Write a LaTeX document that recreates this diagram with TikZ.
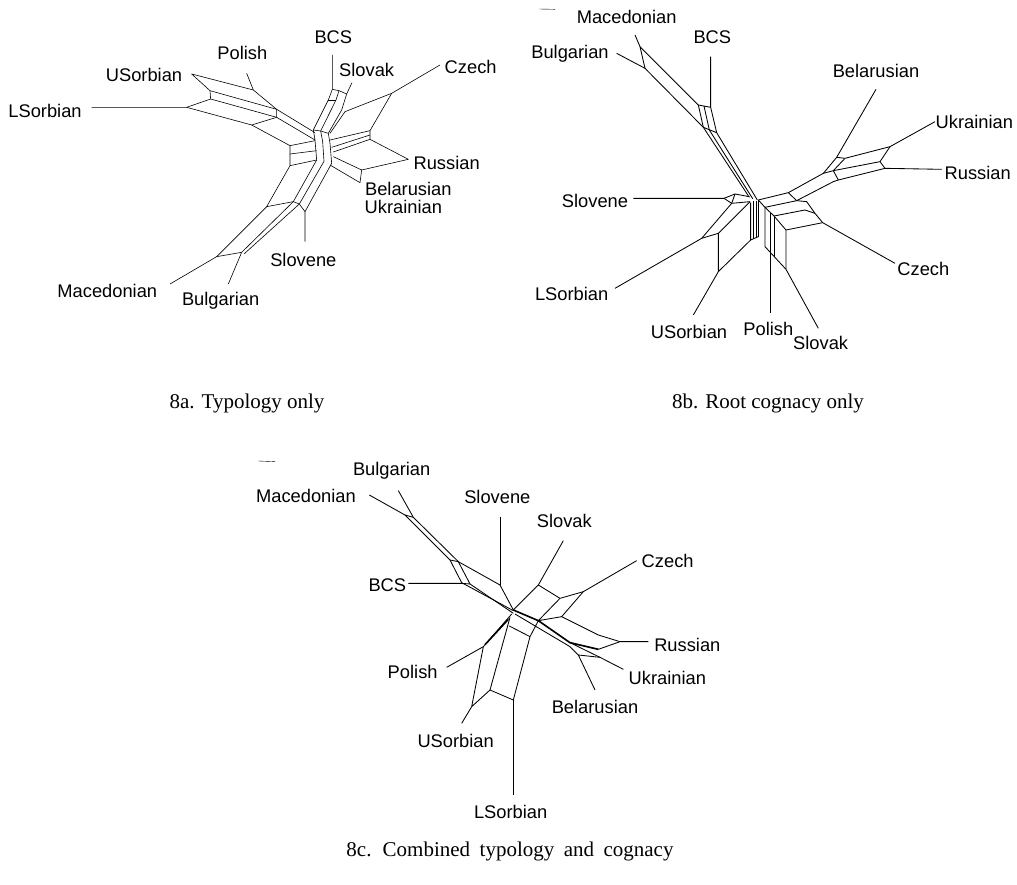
\documentclass[tikz,border=0pt]{standalone}
\usepackage{fontspec}
\setmainfont{Liberation Serif}
\newfontfamily\langfont{Liberation Sans}

\begin{document}
\begin{tikzpicture}
[x = 1pt, y = -1pt,
 net/.style = {line width=0.6pt, line join=round},
 darknet/.style = {line width=0.85pt, line join=round},
 core/.style = {line width=1.6pt, line join=round},
 lang/.style = {font=\langfont\fontsize{18.3}{18}\selectfont, inner sep=0pt},
 capt/.style = {font=\fontsize{21}{21}\selectfont, inner sep=0pt}
 ]
\useasboundingbox (0,0) rectangle (1017,885);

% 8a
\begin{scope}[shift={(0,0)}, scale=1/3]
\draw [net] (575,222) -- (760,270) -- (830,328);
\draw [net] (740,220) -- (760,270);
\draw [net] (575,222) -- (630,272) -- (830,328) -- (830,352);
\draw [net] (630,272) -- (632,297) -- (830,352);
\draw [net] (275,322) -- (560,322) -- (632,297);
\draw [net] (560,322) -- (755,375) -- (830,352);
\draw [net] (755,375) -- (870,437) -- (870,497);
\draw [net] (830,328) -- (945,398);
\draw [net] (830,352) -- (945,420);
\draw [net] (870,437) -- (945,422);
\draw [net] (870,462) -- (950,452);
\draw [net] (870,497) -- (950,480);
\draw [net] (997,165) -- (997,268) -- (1017,272) -- (1040,282);
\draw [net] (1056,248) -- (1040,282);
\draw [net] (997,268) -- (985,300) -- (940,390) -- (945,420) -- (950,480);
\draw [net] (1017,272) -- (1008,300) -- (962,393) -- (968,425) -- (972,484);
\draw [net] (1040,282) -- (1025,330) -- (985,400) -- (990,430) -- (995,490);
\draw [net] (985,300) -- (1008,300);
\draw [net] (940,390) -- (962,393) -- (985,400);
\draw [net] (1320,195) -- (1175,280) -- (1035,335) -- (990,400);
\draw [net] (1175,280) -- (1110,392) -- (1110,418);
\draw [net] (1110,392) -- (990,420);
\draw [net] (1110,405) -- (995,442);
\draw [net] (1110,418) -- (1000,456);
\draw [net] (1110,418) -- (1225,478) -- (1085,510) -- (1080,548) -- (990,495);
\draw [net] (1085,510) -- (1000,470);
\draw [net] (870,497) -- (800,620) -- (650,770) -- (510,852);
\draw [net] (800,620) -- (880,605);
\draw [net] (950,480) -- (880,605) -- (725,757) -- (685,852);
\draw [net] (972,484) -- (898,612) -- (732,762);
\draw [net] (650,770) -- (725,757);
\draw [net] (880,605) -- (898,612) -- (915,635) -- (915,725);
\draw [net] (915,635) -- (995,490);
\node [lang] (aBCS) at (1000,112) {BCS};
\node [lang] (aPolish) at (727,158) {Polish};
\node [lang] (aUSorbian) at (432,225) {USorbian};
\node [lang] (aSlovak) at (1100,210) {Slovak};
\node [lang] (aCzech) at (1412,200) {Czech};
\node [lang] (aLSorbian) at (135,332) {LSorbian};
\node [lang] (aRussian) at (1340,488) {Russian};
\node [lang] (aBelarusian) at (1225,567) {Belarusian};
\node [lang] (aUkrainian) at (1210,622) {Ukrainian};
\node [lang] (aSlovene) at (910,780) {Slovene};
\node [lang] (aMacedonian) at (322,872) {Macedonian};
\node [lang] (aBulgarian) at (662,902) {Bulgarian};
\end{scope}

% 8b
\begin{scope}[shift={(500,0)}, scale=1/3]
\draw [line width=0.4pt] (118,27) -- (165,28);
\draw [darknet] (405,105) -- (420,140) -- (595,315) -- (610,382) -- (748,592);
\draw [darknet] (350,160) -- (435,205) -- (610,382);
\draw [darknet] (420,140) -- (435,205);
\draw [darknet] (632,170) -- (632,322) -- (650,398) -- (772,600);
\draw [darknet] (595,315) -- (632,322);
\draw [darknet] (612,318) -- (628,390) -- (758,596);
\draw [darknet] (610,382) -- (650,398);
\draw [darknet] (400,595) -- (672,595) -- (705,582) -- (748,590);
\draw [darknet] (672,595) -- (695,610) -- (750,605);
\draw [darknet] (705,582) -- (695,610) -- (605,715) -- (345,865);
\draw [darknet] (750,605) -- (655,700) -- (655,815) -- (580,945);
\draw [darknet] (605,715) -- (655,700);
\draw [darknet] (655,815) -- (752,720);
\draw [darknet] (752,608) -- (752,720) -- (775,710);
\draw [darknet] (760,604) -- (760,716);
\draw [darknet] (768,602) -- (768,712);
\draw [darknet] (775,600) -- (775,710);
\draw [darknet] (775,600) -- (795,622) -- (795,740) -- (858,808) -- (955,985);
\draw [darknet] (812,640) -- (812,940);
\draw [darknet] (822,648) -- (822,770);
\draw [darknet] (795,622) -- (890,602) -- (920,605) -- (945,640) -- (968,668);
\draw [darknet] (822,648) -- (915,630) -- (945,640);
\draw [darknet] (795,622) -- (822,648) -- (858,690) -- (858,808);
\draw [darknet] (858,690) -- (968,668) -- (1185,790);
\draw [darknet] (775,600) -- (865,578) -- (970,520) -- (1010,472) -- (1128,268);
\draw [darknet] (865,578) -- (890,602) -- (1000,545) -- (1015,540) -- (1155,505);
\draw [darknet] (970,520) -- (1000,512) -- (1140,485) -- (1155,505) -- (1325,508);
\draw [darknet] (1010,472) -- (1035,475) -- (1170,440) -- (1305,365);
\draw [darknet] (1035,475) -- (1000,512) -- (1015,540);
\draw [darknet] (1170,440) -- (1140,485);
\node [lang] (bMacedonian) at (380,50) {Macedonian};
\node [lang] (bBCS) at (637,112) {BCS};
\node [lang] (bBulgarian) at (210,160) {Bulgarian};
\node [lang] (bBelarusian) at (1128,213) {Belarusian};
\node [lang] (bUkrainian) at (1423,365) {Ukrainian};
\node [lang] (bRussian) at (1433,518) {Russian};
\node [lang] (bSlovene) at (285,603) {Slovene};
\node [lang] (bCzech) at (1270,808) {Czech};
\node [lang] (bLSorbian) at (215,882) {LSorbian};
\node [lang] (bUSorbian) at (567,995) {USorbian};
\node [lang] (bPolish) at (805,988) {Polish};
\node [lang] (bSlovak) at (962,1030) {Slovak};
\end{scope}

% 8c
\begin{scope}[shift={(250,420)}, scale=1/3]
\draw [line width=0.4pt] (25,123) -- (75,125);
\draw [darknet] (358,225) -- (465,285) -- (600,420) -- (635,488) -- (790,572);
\draw [darknet] (445,212) -- (490,292) -- (625,425) -- (660,492) -- (790,580);
\draw [darknet] (465,285) -- (490,292);
\draw [darknet] (600,420) -- (625,425) -- (750,495) -- (790,570);
\draw [darknet] (475,490) -- (635,490) -- (660,492);
\draw [darknet] (750,290) -- (750,495);
\draw [core] (790,570) -- (865,602) -- (960,668) -- (1045,688);
\draw [darknet] (795,582) -- (960,680) -- (985,705) -- (1035,810);
\draw [darknet] (940,362) -- (865,495) -- (790,570);
\draw [darknet] (865,495) -- (930,535) -- (1000,515) -- (1160,422);
\draw [darknet] (1000,515) -- (935,590) -- (865,602) -- (930,535);
\draw [darknet] (935,590) -- (1045,645) -- (1110,665) -- (1195,665);
\draw [darknet] (1110,665) -- (1045,688) -- (960,668);
\draw [darknet] (985,705) -- (1050,712) -- (1120,748);
\draw [darknet] (960,668) -- (1050,712);
\draw [darknet] (590,742) -- (700,680) -- (785,582);
\draw [core] (705,674) -- (775,598);
\draw [darknet] (700,680) -- (665,860) -- (720,810) -- (790,840) -- (840,650) -- (865,602);
\draw [darknet] (635,910) -- (665,860);
\draw [darknet] (790,1125) -- (790,840);
\draw [darknet] (720,810) -- (780,592);
\draw [darknet] (778,618) -- (840,650);
\node [lang] (cBulgarian) at (425,153) {Bulgarian};
\node [lang] (cMacedonian) at (168,228) {Macedonian};
\node [lang] (cSlovene) at (742,232) {Slovene};
\node [lang] (cSlovak) at (943,303) {Slovak};
\node [lang] (cCzech) at (1253,423) {Czech};
\node [lang] (cBCS) at (412,497) {BCS};
\node [lang] (cRussian) at (1312,675) {Russian};
\node [lang] (cPolish) at (488,755) {Polish};
\node [lang] (cUkrainian) at (1252,773) {Ukrainian};
\node [lang] (cBelarusian) at (1035,862) {Belarusian};
\node [lang] (cUSorbian) at (617,962) {USorbian};
\node [lang] (cLSorbian) at (782,1175) {LSorbian};
\end{scope}

\node [capt] (capA) at (247,403) {8a. Typology only};
\node [capt] (capB) at (768,403) {8b. Root cognacy only};
\node [capt] (capC) at (510,851) {\spaceskip=0.45em\relax 8c. Combined typology and cognacy};
\end{tikzpicture}
\end{document}
